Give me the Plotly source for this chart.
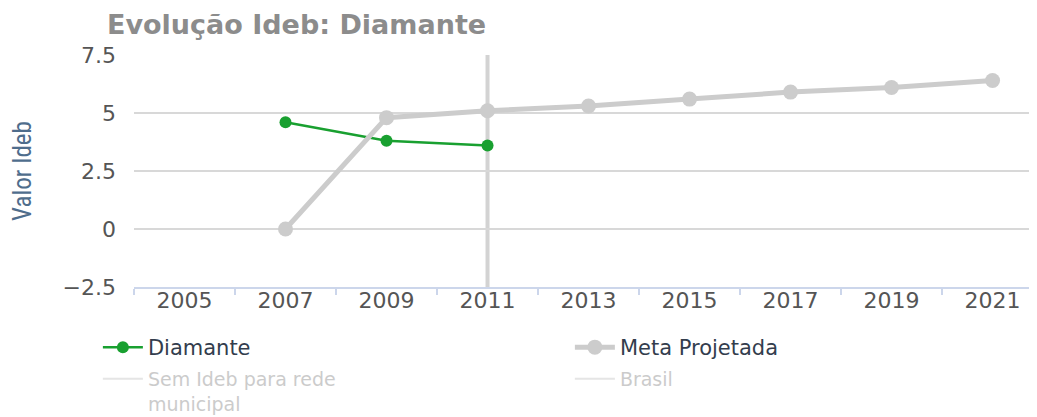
import plotly.graph_objects as go

years = ["2005", "2007", "2009", "2011", "2013", "2015", "2017", "2019", "2021"]
diamante_years = ["2007", "2009", "2011"]
diamante_vals = [4.6, 3.8, 3.6]
meta_years = ["2007", "2009", "2011", "2013", "2015", "2017", "2019", "2021"]
meta_vals = [0, 4.8, 5.1, 5.3, 5.6, 5.9, 6.1, 6.4]
y_ticks = [-2.5, 0, 2.5, 5, 7.5]
y_tick_labels = ["−2.5", "0", "2.5", "5", "7.5"]
crosshair_year = "2011"

FONT = "DejaVu Sans"
# the page body has an 8px margin, so figure coordinates are screen coordinates minus 8
W, H = 1029, 409
PLOT_TOP, PLOT_BOTTOM = 47, 279
PLOT_H = PLOT_BOTTOM - PLOT_TOP

fig = go.Figure()
fig.add_trace(go.Scatter(
    x=diamante_years, y=diamante_vals, name="Diamante", mode="lines+markers",
    line=dict(color="#19a030", width=2.5),
    marker=dict(color="#19a030", size=12), legend="legend",
))
fig.add_trace(go.Scatter(
    x=meta_years, y=meta_vals, name="Meta Projetada", mode="lines+markers",
    line=dict(color="#cccccc", width=5),
    marker=dict(color="#cccccc", size=15), legend="legend",
))
fig.add_trace(go.Scatter(
    x=[None], y=[None], name="<span style='color:#999999'>Sem Ideb para rede<br>municipal</span>",
    mode="lines", line=dict(color="#cccccc", width=2), visible="legendonly", legend="legend2",
))
fig.add_trace(go.Scatter(
    x=[None], y=[None], name="<span style='color:#999999'>Brasil</span>",
    mode="lines", line=dict(color="#cccccc", width=2), visible="legendonly", legend="legend2",
))

cross_idx = years.index(crosshair_year)
fig.add_shape(type="line", xref="x", yref="paper", x0=cross_idx, x1=cross_idx,
              y0=0, y1=1, line=dict(color="#d3d3d3", width=4), layer="below")

legend_common = dict(
    orientation="h", x=-0.04, xanchor="left", yanchor="top",
    entrywidth=417, entrywidthmode="pixels",
    itemwidth=40, bgcolor="rgba(0,0,0,0)", valign="top",
)

fig.update_layout(
    width=W, height=H,
    margin=dict(l=126, r=0, t=PLOT_TOP, b=H - PLOT_BOTTOM, autoexpand=False),
    paper_bgcolor="white", plot_bgcolor="white",
    font=dict(family=FONT, color="#555555", size=18),
    title=dict(text="<b>Evolução Ideb: Diamante</b>", x=99 / W, xanchor="left",
               y=1 - 17 / H, yanchor="middle",
               font=dict(family=FONT, size=27, color="#8c8c8c")),
    xaxis=dict(
        type="category", categoryorder="array", categoryarray=years,
        range=[-0.5, 8.44], tickmode="array", tickvals=years, ticktext=years,
        showgrid=False, showline=True, linecolor="#ccd6eb", linewidth=2,
        ticks="outside", tickson="boundaries", ticklen=6, tickwidth=2, tickcolor="#ccd6eb",
        ticklabelstandoff=-7,
        tickfont=dict(family=FONT, size=22, color="#555555"), zeroline=False,
    ),
    yaxis=dict(
        range=[-2.5, 7.5], tickmode="array", tickvals=y_ticks, ticktext=y_tick_labels,
        showgrid=True, gridcolor="#d8d8d8", gridwidth=2, zeroline=False,
        showline=False, ticks="", ticklabelstandoff=17,
        tickfont=dict(family=FONT, size=22, color="#555555"),
        title=dict(text="Valor Ideb", standoff=38,
                   font=dict(family="Liberation Sans Narrow, Roboto Condensed, Liberation Sans", size=25, color="#4f6d8c")),
    ),
    legend=dict(y=(PLOT_BOTTOM - 319) / PLOT_H,
                font=dict(family=FONT, size=21, color="#333d4d"), **legend_common),
    legend2=dict(y=(PLOT_BOTTOM - 352) / PLOT_H,
                 font=dict(family=FONT, size=19, color="#333d4d"), **legend_common),
    showlegend=True,
)

fig.write_html("out.html")
